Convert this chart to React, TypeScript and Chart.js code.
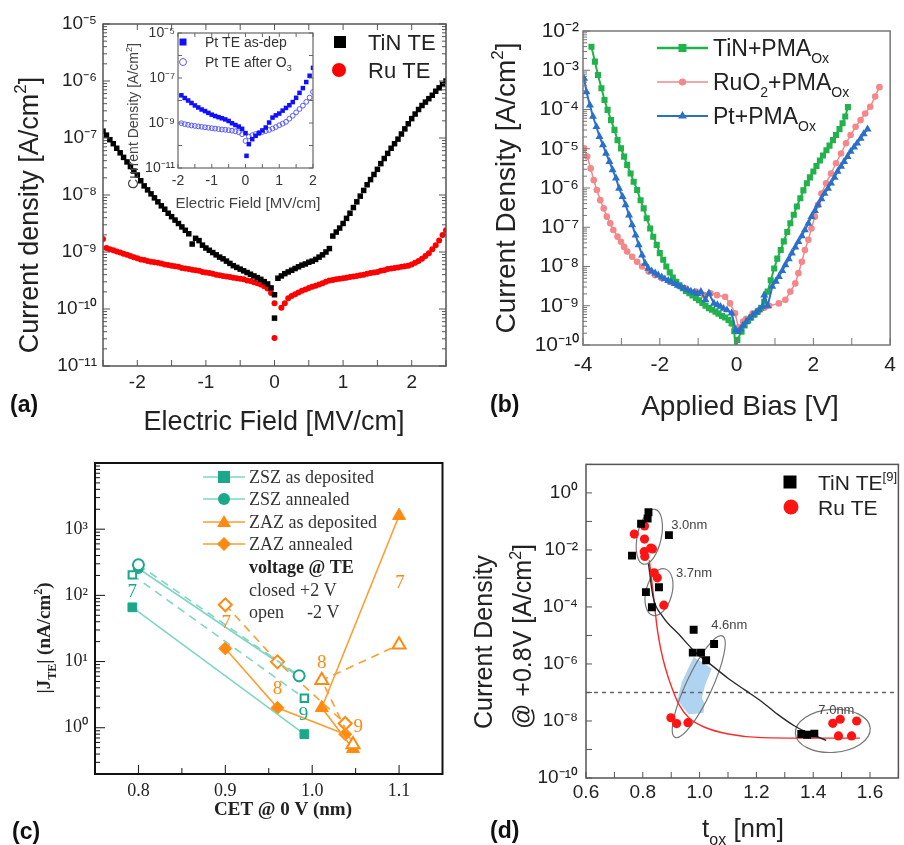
import React, { useEffect, useRef } from 'react';
import { Chart, registerables } from 'chart.js';

Chart.register(...registerables);

const SANS = '"Liberation Sans", Arial, Helvetica, sans-serif';
const SERIF = '"Liberation Serif", "Times New Roman", Times, serif';

// ================= Panel (a): J vs E, TiN TE / Ru TE (log10 J) =================
const fieldA = [-2.5, -2.45, -2.4, -2.35, -2.3, -2.25, -2.2, -2.15, -2.1, -2.05, -2, -1.95, -1.9, -1.85, -1.8, -1.75, -1.7, -1.65, -1.6, -1.55, -1.5, -1.45, -1.4, -1.35, -1.3, -1.25, -1.2, -1.15, -1.1, -1.05, -1, -0.95, -0.9, -0.85, -0.8, -0.75, -0.7, -0.65, -0.6, -0.55, -0.5, -0.45, -0.4, -0.35, -0.3, -0.25, -0.2, -0.15, -0.1, -0.05, 0, 0.05, 0.1, 0.15, 0.2, 0.25, 0.3, 0.35, 0.4, 0.45, 0.5, 0.55, 0.6, 0.65, 0.7, 0.75, 0.8, 0.85, 0.9, 0.95, 1, 1.05, 1.1, 1.15, 1.2, 1.25, 1.3, 1.35, 1.4, 1.45, 1.5, 1.55, 1.6, 1.65, 1.7, 1.75, 1.8, 1.85, 1.9, 1.95, 2, 2.05, 2.1, 2.15, 2.2, 2.25, 2.3, 2.35, 2.4, 2.45, 2.5];
const tinLogA = [-6.88, -6.95, -7.03, -7.10, -7.18, -7.26, -7.34, -7.42, -7.50, -7.58,
  -7.65, -7.75, -7.84, -7.91, -7.98, -8.05, -8.12, -8.19, -8.25, -8.32,
  -8.38, -8.44, -8.50, -8.56, -8.62, -8.68, -8.86, -8.76, -8.80, -8.88,
  -8.93, -8.97, -9.01, -9.05, -9.09, -9.12, -9.16, -9.20, -9.24, -9.27,
  -9.30, -9.33, -9.36, -9.39, -9.42, -9.45, -9.48, -9.52, -9.56, -9.63,
  -9.75,
  -9.46, -9.42, -9.38, -9.35, -9.32, -9.29, -9.26, -9.23, -9.21, -9.18,
  -9.16, -9.13, -9.09, -9.05, -9.00, -8.94, -8.72, -8.65, -8.58, -8.50,
  -8.41, -8.32, -8.22, -8.12, -8.02, -7.92, -7.82, -7.73, -7.64, -7.55,
  -7.45, -7.36, -7.27, -7.18, -7.10, -7.02, -6.93, -6.84, -6.75, -6.66,
  -6.58, -6.50, -6.43, -6.37, -6.31, -6.25, -6.18, -6.12, -6.06, -6.00];
const ruLogA = [-8.77, -8.93, -8.95, -8.97, -8.99, -9.01, -9.03, -9.05, -9.07, -9.09,
  -9.11, -9.13, -9.14, -9.16, -9.17, -9.18, -9.19, -9.20, -9.22, -9.23,
  -9.24, -9.25, -9.26, -9.28, -9.29, -9.30, -9.31, -9.32, -9.33, -9.35,
  -9.36, -9.37, -9.38, -9.40, -9.41, -9.42, -9.43, -9.44, -9.45, -9.46,
  -9.47, -9.48, -9.50, -9.51, -9.53, -9.55, -9.57, -9.60, -9.64, -9.72,
  -9.90,
  null, -9.98, -9.90, -9.81, -9.77, -9.74, -9.71, -9.68, -9.66, -9.63,
  -9.61, -9.59, -9.57, -9.55, -9.52, -9.50, -9.49, -9.48, -9.47, -9.46,
  -9.45, -9.44, -9.43, -9.42, -9.41, -9.40, -9.38, -9.37, -9.36, -9.35,
  -9.33, -9.32, -9.30, -9.29, -9.28, -9.27, -9.26, -9.25, -9.24, -9.22,
  -9.19, -9.16, -9.12, -9.07, -9.02, -8.95, -8.88, -8.80, -8.70, -8.62];
const tinDipXA = [0];
const tinDipLogA = [-10.16];
const ruDipXA = [0];
const ruDipLogA = [-10.51];
const aYTicks = [1e-11, 1e-10, 1e-9, 1e-8, 1e-7, 1e-6, 1e-5];
const aXTicks = [-2, -1, 0, 1, 2];

// ---- inset of (a): Pt TE ----
const fieldIn = [-1.9, -1.8, -1.7, -1.6, -1.5, -1.4, -1.3, -1.2, -1.1, -1.0, -0.9, -0.8, -0.7, -0.6, -0.5, -0.4, -0.3, -0.2, -0.1, 0, 0.1, 0.2, 0.3, 0.4, 0.5, 0.6, 0.7, 0.8, 0.9, 1.0, 1.1, 1.2, 1.3, 1.4, 1.5, 1.6, 1.7, 1.8, 1.9, 2.0];
const ptDepLog = [-7.77, -7.89, -8.00, -8.11, -8.22, -8.31, -8.40, -8.47, -8.55, -8.63,
  -8.69, -8.74, -8.79, -8.84, -8.91, -9.01, -9.09, -9.16, -9.26, -9.45,
  -9.94, -9.72, -9.57, -9.45, -9.33, -9.20, -8.98, -8.76, -8.66, -8.58,
  -8.45, -8.33, -8.21, -8.07, -7.88, -7.66, -7.45, -7.18, -6.90, -6.55];
const ptO3Log = [-9.01, -9.05, -9.08, -9.11, -9.13, -9.15, -9.17, -9.19, -9.21, -9.23,
  -9.25, -9.27, -9.29, -9.30, -9.32, -9.34, -9.37, -9.41, -9.50, -9.80,
  -9.60, -9.54, -9.49, -9.44, -9.40, -9.36, -9.31, -9.25, -9.18, -9.10,
  -9.03, -8.95, -8.81, -8.68, -8.53, -8.38, -8.23, -8.06, -7.87, -7.62];
const ptDepDipX = [0.03];
const ptDepDipLog = [-10.46];
const inYTicks = [1e-11, 1e-9, 1e-7, 1e-5];
const inXTicks = [-2, -1, 0, 1, 2];

// ================= Panel (b): J vs applied bias =================
const tinXB = [-3.78, -3.69, -3.61, -3.52, -3.44, -3.36, -3.27, -3.18, -3.10, -3.01,
  -2.93, -2.85, -2.76, -2.68, -2.59, -2.50, -2.42, -2.34, -2.25, -2.17,
  -2.08, -2.00, -1.91, -1.83, -1.74, -1.66, -1.57, -1.49, -1.40, -1.32,
  -1.23, -1.15, -1.06, -0.98, -0.89, -0.81, -0.72, -0.64, -0.55, -0.47,
  -0.38, -0.30, -0.21, -0.13, -0.06, -0.02,
  0.02, 0.13, 0.21, 0.30, 0.38, 0.47, 0.55, 0.64, 0.72, 0.81,
  0.89, 0.98, 1.06, 1.15, 1.23, 1.32, 1.40, 1.49, 1.57, 1.66,
  1.74, 1.83, 1.91, 2.00, 2.08, 2.17, 2.25, 2.34, 2.42, 2.51,
  2.59, 2.68, 2.76, 2.83, 2.90];
const tinLogB = [-2.40, -2.78, -3.12, -3.46, -3.76, -4.01, -4.27, -4.52, -4.78, -4.99,
  -5.20, -5.41, -5.63, -5.84, -6.05, -6.31, -6.52, -6.77, -7.03, -7.24,
  -7.45, -7.66, -7.83, -8.00, -8.15, -8.28, -8.39, -8.48, -8.55, -8.62,
  -8.68, -8.74, -8.80, -8.86, -8.93, -9.00, -9.06, -9.10, -9.15, -9.20,
  -9.26, -9.30, -9.36, -9.45, -9.65, -10.30,
  -9.87, -9.66, -9.50, -9.38, -9.30, -9.22, -9.15, -9.05, -8.90, -8.64,
  -8.35, -8.05, -7.80, -7.58, -7.36, -7.12, -6.90, -6.68, -6.47, -6.26,
  -6.06, -5.88, -5.73, -5.58, -5.44, -5.30, -5.17, -5.04, -4.92, -4.78,
  -4.65, -4.50, -4.35, -4.18, -3.94];
const ruo2XB = [-3.97, -3.89, -3.80, -3.72, -3.64, -3.55, -3.46, -3.38, -3.29, -3.21,
  -3.10, -3.01, -2.93, -2.85, -2.72, -2.59, -2.46, -2.29, -2.12, -1.95,
  -1.74, -1.53, -1.32, -1.06, -0.85, -0.68, -0.51, -0.30, -0.17, -0.04,
  0.05, 0.17, 0.25, 0.42, 0.59, 0.72, 0.85, 1.10, 1.27, 1.40,
  1.53, 1.61, 1.70, 1.78, 1.87, 1.95, 2.04, 2.12, 2.21, 2.33,
  2.46, 2.59, 2.72, 2.85, 2.97, 3.10, 3.23, 3.35, 3.48, 3.61, 3.72];
const ruo2LogB = [-4.99, -5.20, -5.50, -5.80, -6.05, -6.31, -6.52, -6.73, -6.90, -7.07,
  -7.24, -7.37, -7.50, -7.62, -7.75, -7.88, -8.00, -8.13, -8.22, -8.30,
  -8.39, -8.47, -8.56, -8.64, -8.73, -8.68, -8.73, -8.77, -8.94, -9.19,
  -9.55, -9.40, -9.33, -9.19, -9.11, -9.05, -9.00, -8.94, -8.85, -8.64,
  -8.43, -8.17, -7.88, -7.58, -7.32, -7.03, -6.73, -6.43, -6.14, -5.88,
  -5.63, -5.37, -5.12, -4.86, -4.65, -4.44, -4.27, -4.10, -3.93, -3.67, -3.43];
const ptXB = [-3.97, -3.91, -3.82, -3.74, -3.65, -3.57, -3.48, -3.40, -3.31, -3.23,
  -3.14, -3.06, -2.97, -2.89, -2.80, -2.72, -2.63, -2.55, -2.46, -2.38,
  -2.30, -2.21, -2.12, -2.04, -1.95, -1.87, -1.78, -1.70, -1.61, -1.53,
  -1.44, -1.36, -1.27, -1.19, -1.10, -1.02, -0.93, -0.81, -0.72, -0.59,
  -0.50, -0.42, -0.34, -0.25, -0.13, -0.02,
  0.04, 0.10, 0.17, 0.25, 0.34, 0.42, 0.51, 0.59, 0.68, 0.72,
  0.81, 0.93, 1.02, 1.10, 1.19, 1.27, 1.36, 1.44, 1.53, 1.61,
  1.70, 1.78, 1.87, 1.95, 2.04, 2.12, 2.21, 2.29, 2.38, 2.46,
  2.55, 2.63, 2.72, 2.80, 2.89, 2.97, 3.06, 3.14, 3.23, 3.31, 3.41];
const ptLogB = [-3.21, -3.55, -3.89, -4.18, -4.44, -4.69, -4.90, -5.12, -5.33, -5.54,
  -5.75, -6.01, -6.22, -6.43, -6.69, -6.94, -7.20, -7.45, -7.71, -7.92,
  -8.05, -8.12, -8.17, -8.22, -8.27, -8.32, -8.36, -8.40, -8.44, -8.48,
  -8.52, -8.56, -8.60, -8.63, -8.66, -8.69, -8.64, -8.85, -8.68, -8.94,
  -8.98, -9.02, -9.07, -9.11, -9.19, -9.62,
  -9.66, -9.60, -9.50, -9.41, -9.32, -9.24, -9.17, -9.11, -9.02, -8.73,
  -9.00, -8.51, -8.38, -8.26, -8.11, -7.96, -7.81, -7.66, -7.51, -7.37,
  -7.22, -7.07, -6.90, -6.73, -6.58, -6.43, -6.28, -6.14, -6.01, -5.88,
  -5.73, -5.58, -5.45, -5.33, -5.20, -5.07, -4.96, -4.86, -4.74, -4.62, -4.50];
const bYTicks = [1e-10, 1e-9, 1e-8, 1e-7, 1e-6, 1e-5, 1e-4, 1e-3, 1e-2];
const bXTicks = [-4, -2, 0, 2, 4];

// ================= Panel (c): |J_TE| vs CET =================
const zszDepCet = [0.793, 0.991];
const zszDepClosed = [66, 0.8];
const zszDepOpen = [204, 2.8];
const zszAnnCet = [0.800, 0.985];
const zszAnnClosed = [255, 5.9];
const zszAnnOpen = [290, 6.1];
const zazDepCet = [1.047, 1.011, 1.100];
const zazDepClosed = [0.48, 2.0, 1600];
const zazDepOpen = [0.56, 5.2, 18];
const zazAnnCet = [0.900, 0.960, 1.038];
const zazAnnClosed = [15.8, 2.0, 0.80];
const zazAnnOpen = [72, 9.9, 1.16];
const cNumText = ['7', '9', '7', '8', '8', '9', '7'];
const cNumCet = [0.793, 0.990, 0.901, 0.960, 1.011, 1.053, 1.101];
const cNumJ = [120, 1.66, 41, 4.1, 10, 1.1, 166];
const cNumStack = ['ZSZ', 'ZSZ', 'ZAZ', 'ZAZ', 'ZAZ', 'ZAZ', 'ZAZ'];
const cYTicks = [1, 10, 100, 1000];
const cXTicks = [0.8, 0.9, 1.0, 1.1];

// ================= Panel (d): J @ +0.8 V vs t_ox =================
const tinTox = [0.762, 0.794, 0.817, 0.820, 0.892, 0.811, 0.832, 0.857, 0.979, 0.976, 1.005, 1.023, 1.051, 1.358, 1.379, 1.404];
const tinJd = [6.3e-3, 0.083, 0.126, 0.21, 0.033, 3.3e-4, 9.8e-5, 4.9e-4, 1.58e-5, 2.5e-6, 2.5e-6, 1.35e-6, 5.0e-6, 3.5e-9, 3.3e-9, 3.6e-9];
const ruTox = [0.770, 0.806, 0.806, 0.805, 0.807, 0.828, 0.834, 0.840, 0.851, 0.874, 0.899, 0.919, 0.959, 1.469, 1.495, 1.553, 1.489, 1.535];
const ruJd = [0.036, 0.069, 0.024, 8.7e-3, 5.9e-3, 0.0117, 0.0108, 1.58e-3, 1.05e-3, 1.15e-4, 1.3e-8, 8.1e-9, 8.7e-9, 8.3e-9, 1.15e-8, 1.0e-8, 3.0e-9, 3.0e-9];
const tinFitTox = [0.820, 0.836, 0.869, 0.927, 0.985, 1.043, 1.101, 1.159, 1.217, 1.275, 1.333, 1.391, 1.446];
const tinFitJ = [3.3e-3, 2.3e-4, 4.8e-5, 1.1e-5, 2.6e-6, 8.9e-7, 3.1e-7, 1.23e-7, 4.9e-8, 1.7e-8, 6.8e-9, 3.5e-9, 2.1e-9];
const ruFitTox = [0.823, 0.834, 0.843, 0.851, 0.863, 0.880, 0.903, 0.927, 0.962, 1.020, 1.101, 1.217, 1.391, 1.565];
const ruFitJ = [4.3e-3, 5.1e-4, 8.1e-5, 1.66e-5, 3.4e-6, 6.9e-7, 1.4e-7, 3.8e-8, 1.29e-8, 5.9e-9, 3.5e-9, 2.6e-9, 2.5e-9, 2.5e-9];
const limitTox = [0.6, 1.7];
const limitJ = [1e-7, 1e-7];
const regionTox = [0.979, 1.043, 1.020, 1.008, 1.017, 1.014, 0.962, 0.921, 0.938];
const regionJ = [1.74e-6, 6.9e-7, 1.86e-7, 6.3e-8, 4.3e-8, 1.95e-8, 1.7e-8, 5.6e-8, 2.4e-7];
const groupText = ['3.0nm', '3.7nm', '4.6nm', '7.0nm'];
const groupTox = [0.823, 0.857, 0.997, 1.469];
const groupJ = [0.029, 3.3e-4, 1.6e-7, 4.5e-9];
const groupLabelTox = [0.900, 0.917, 1.041, 1.418];
const groupLabelJ = [0.079, 1.7e-3, 2.4e-5, 2.6e-8];
const dYTicks = [1e-10, 1e-8, 1e-6, 1e-4, 1e-2, 1];
const dXTicks = [0.6, 0.8, 1.0, 1.2, 1.4, 1.6];

// ellipse shapes around groups (pixel radii, degrees)
const groupShape = [
  { rx: 12, ry: 28, rot: 12 },
  { rx: 13, ry: 24, rot: 15 },
  { rx: 13, ry: 56, rot: 25 },
  { rx: 37.5, ry: 21.5, rot: -4 },
];

// ================= helpers =================
const SUP: Record<string, string> = { '-': '\u207B', '0': '\u2070', '1': '\u00B9', '2': '\u00B2', '3': '\u00B3', '4': '\u2074', '5': '\u2075', '6': '\u2076', '7': '\u2077', '8': '\u2078', '9': '\u2079' };
function powLabel(v: number) {
  const e = Math.round(Math.log10(v));
  return '10' + String(e).split('').map((c) => SUP[c]).join('');
}
function fromLog(xs: number[], logs: (number | null)[]) {
  const out: any[] = [];
  xs.forEach((x, i) => {
    const l = logs[i];
    if (l !== null && l !== undefined) out.push({ x, y: Math.pow(10, l) });
  });
  return out;
}
function pairs(xs: number[], ys: number[]) {
  return xs.map((x, i) => ({ x, y: ys[i] }));
}
function logMinors(lo: number, hi: number) {
  const out: number[] = [];
  for (let e = lo; e < hi; e++) for (let k = 2; k <= 9; k++) out.push(k * Math.pow(10, e));
  return out;
}
function decades(lo: number, hi: number) {
  const out: number[] = [];
  for (let e = lo; e <= hi; e++) out.push(Math.pow(10, e));
  return out;
}
function steps(a: number, b: number, s: number) {
  const out: number[] = [];
  const n = Math.round((b - a) / s);
  for (let i = 0; i <= n; i++) out.push(+(a + i * s).toFixed(6));
  return out;
}

type Part = { t: string; s?: 'sub' | 'sup' };
function rich(ctx: CanvasRenderingContext2D, parts: Part[], x: number, y: number, o: any) {
  const weight = o.weight || 'normal';
  const fontOf = (p: Part) => `${weight} ${p.s ? Math.round(o.size * 0.62) : o.size}px ${o.family || SANS}`;
  ctx.save();
  ctx.translate(x, y);
  if (o.rotate) ctx.rotate(-Math.PI / 2);
  const ws: number[] = [];
  let total = 0;
  for (const p of parts) {
    ctx.font = fontOf(p);
    const w = ctx.measureText(p.t).width;
    ws.push(w);
    total += w;
  }
  let cx = o.align === 'center' ? -total / 2 : o.align === 'right' ? -total : 0;
  ctx.fillStyle = o.color || '#222';
  ctx.textBaseline = 'alphabetic';
  ctx.textAlign = 'left';
  const base = o.size * 0.36;
  parts.forEach((p, i) => {
    ctx.font = fontOf(p);
    const dy = p.s === 'sub' ? o.size * 0.3 : p.s === 'sup' ? -o.size * 0.42 : 0;
    ctx.fillText(p.t, cx, base + dy);
    cx += ws[i];
  });
  ctx.restore();
}

function marker(ctx: CanvasRenderingContext2D, style: string, x: number, y: number, r: number, fill: string | null, stroke: string | null, lw = 1) {
  ctx.save();
  ctx.beginPath();
  if (style === 'rect') ctx.rect(x - r, y - r, 2 * r, 2 * r);
  else if (style === 'circle') ctx.arc(x, y, r, 0, Math.PI * 2);
  else if (style === 'triangle') {
    ctx.moveTo(x, y - r);
    ctx.lineTo(x + r * 0.866, y + r * 0.5);
    ctx.lineTo(x - r * 0.866, y + r * 0.5);
    ctx.closePath();
  } else if (style === 'diamond') {
    ctx.moveTo(x, y - r);
    ctx.lineTo(x + r, y);
    ctx.lineTo(x, y + r);
    ctx.lineTo(x - r, y);
    ctx.closePath();
  }
  if (fill) {
    ctx.fillStyle = fill;
    ctx.fill();
  }
  if (stroke) {
    ctx.strokeStyle = stroke;
    ctx.lineWidth = lw;
    ctx.stroke();
  }
  ctx.restore();
}

type TickSpec = { axis: 'x' | 'y'; side: 'left' | 'right' | 'top' | 'bottom'; values: number[]; len: number };
function deco(d: { color: string; width: number; ticks: TickSpec[]; bg?: boolean; before?: (c: any) => void; after?: (c: any) => void }) {
  return {
    id: 'deco',
    beforeDraw(chart: any) {
      if (!d.bg) return;
      const a = chart.chartArea;
      const ctx = chart.ctx;
      ctx.save();
      ctx.fillStyle = '#ffffff';
      ctx.fillRect(a.left, a.top, a.right - a.left, a.bottom - a.top);
      ctx.restore();
    },
    beforeDatasetsDraw(chart: any) {
      if (d.before) d.before(chart);
    },
    afterDatasetsDraw(chart: any) {
      const ctx = chart.ctx as CanvasRenderingContext2D;
      const a = chart.chartArea;
      ctx.save();
      ctx.strokeStyle = d.color;
      ctx.lineWidth = 1;
      for (const t of d.ticks) {
        const sc = chart.scales[t.axis];
        for (const v of t.values) {
          const p = sc.getPixelForValue(v);
          if (t.axis === 'y' && (p < a.top - 0.5 || p > a.bottom + 0.5)) continue;
          if (t.axis === 'x' && (p < a.left - 0.5 || p > a.right + 0.5)) continue;
          ctx.beginPath();
          if (t.side === 'left') { ctx.moveTo(a.left, p); ctx.lineTo(a.left + t.len, p); }
          if (t.side === 'right') { ctx.moveTo(a.right, p); ctx.lineTo(a.right - t.len, p); }
          if (t.side === 'bottom') { ctx.moveTo(p, a.bottom); ctx.lineTo(p, a.bottom - t.len); }
          if (t.side === 'top') { ctx.moveTo(p, a.top); ctx.lineTo(p, a.top + t.len); }
          ctx.stroke();
        }
      }
      ctx.lineWidth = d.width;
      ctx.strokeRect(a.left, a.top, a.right - a.left, a.bottom - a.top);
      ctx.restore();
      if (d.after) d.after(chart);
    },
  };
}

function axis(type: string, min: number, max: number, tickVals: number[], fmt: (v: number) => string, size: number, font: any, color: string, pad: number, horiz: boolean) {
  return {
    type,
    min,
    max,
    afterFit: (s: any) => {
      if (horiz) s.height = size;
      else s.width = size;
    },
    afterBuildTicks: (s: any) => {
      s.ticks = tickVals.map((v) => ({ value: v }));
    },
    grid: { display: false, drawTicks: false },
    border: { display: false },
    ticks: { autoSkip: false, maxRotation: 0, minRotation: 0, padding: pad, font, color, callback: (v: any) => fmt(Number(v)) },
  };
}

function baseOptions(padding: any, scales: any) {
  return {
    responsive: false,
    animation: false,
    events: [],
    layout: { padding },
    plugins: { legend: { display: false }, tooltip: { enabled: false } },
    scales,
  };
}

// ================= chart configs =================
function makeA() {
  const font = { family: SANS, size: 19 };
  return {
    type: 'scatter',
    data: {
      datasets: [
        { data: fromLog(fieldA, tinLogA).concat(fromLog(tinDipXA, tinDipLogA)), pointStyle: 'rect', pointRadius: 3.9, pointBackgroundColor: '#000', pointBorderColor: '#000', pointBorderWidth: 0, order: 0 },
        { data: fromLog(fieldA, ruLogA).concat(fromLog(ruDipXA, ruDipLogA)), pointStyle: 'circle', pointRadius: 3, pointBackgroundColor: '#ff0000', pointBorderColor: '#ff0000', pointBorderWidth: 0, order: 1 },
      ],
    },
    options: baseOptions({ left: 0, top: 24, right: 6, bottom: 0 }, {
      x: axis('linear', -2.5, 2.5, aXTicks, (v) => String(v), 79, font, '#222', 5, true),
      y: axis('logarithmic', 1e-11, 1e-5, aYTicks, powLabel, 103, font, '#222', 6, false),
    }),
    plugins: [deco({
      color: '#555', width: 1.5,
      ticks: [
        { axis: 'y', side: 'left', values: decades(-11, -5), len: 7 },
        { axis: 'y', side: 'left', values: logMinors(-11, -5), len: 4 },
        { axis: 'y', side: 'right', values: decades(-11, -5), len: 7 },
        { axis: 'y', side: 'right', values: logMinors(-11, -5), len: 4 },
        { axis: 'x', side: 'bottom', values: steps(-2.5, 2.5, 0.5), len: 6 },
        { axis: 'x', side: 'top', values: steps(-2.5, 2.5, 0.5), len: 6 },
      ],
      after: (chart: any) => {
        const ctx = chart.ctx;
        rich(ctx, [{ t: 'Current density [A/cm' }, { t: '2', s: 'sup' }, { t: ']' }], 28, 215, { size: 27, align: 'center', rotate: true, color: '#222' });
        rich(ctx, [{ t: 'Electric Field [MV/cm]' }], 274, 420, { size: 27, align: 'center', color: '#222' });
        rich(ctx, [{ t: '(a)' }], 10, 404, { size: 23, weight: 'bold', color: '#111' });
        marker(ctx, 'rect', 340, 42, 6, '#000', null);
        rich(ctx, [{ t: 'TiN TE' }], 368, 42, { size: 22, color: '#222' });
        marker(ctx, 'circle', 339, 70, 7, '#ff0000', null);
        rich(ctx, [{ t: 'Ru TE' }], 368, 70, { size: 22, color: '#222' });
      },
    })],
  };
}

function makeInset() {
  const font = { family: SANS, size: 14 };
  return {
    type: 'scatter',
    data: {
      datasets: [
        { data: fromLog(fieldIn, ptDepLog).concat(fromLog(ptDepDipX, ptDepDipLog)), pointStyle: 'rect', pointRadius: 3.2, pointBackgroundColor: '#1010ff', pointBorderColor: '#1010ff', pointBorderWidth: 0, order: 0 },
        { data: fromLog(fieldIn, ptO3Log), pointStyle: 'circle', pointRadius: 2.4, pointBackgroundColor: 'rgba(255,255,255,0)', pointBorderColor: '#5a5aff', pointBorderWidth: 1, order: 1 },
      ],
    },
    options: baseOptions({ left: 0, top: 13, right: 20, bottom: 0 }, {
      x: axis('linear', -2, 2, inXTicks, (v) => String(v), 52, font, '#333', 5, true),
      y: axis('logarithmic', 1e-11, 1e-5, inYTicks, powLabel, 60, font, '#333', 3, false),
    }),
    plugins: [deco({
      color: '#666', width: 1.2, bg: true,
      ticks: [
        { axis: 'y', side: 'left', values: decades(-11, -5), len: 4 },
        { axis: 'y', side: 'right', values: decades(-11, -5), len: 4 },
        { axis: 'x', side: 'bottom', values: steps(-2, 2, 0.5), len: 4 },
        { axis: 'x', side: 'top', values: steps(-2, 2, 0.5), len: 4 },
      ],
      after: (chart: any) => {
        const ctx = chart.ctx;
        rich(ctx, [{ t: 'Current Density [A/cm' }, { t: '2', s: 'sup' }, { t: ']' }], 15, 96, { size: 14, align: 'center', rotate: true, color: '#444' });
        rich(ctx, [{ t: 'Electric Field [MV/cm]' }], 130, 183, { size: 15, align: 'center', color: '#444' });
        marker(ctx, 'rect', 65, 22, 3.5, '#1010ff', null);
        rich(ctx, [{ t: 'Pt TE as-dep' }], 87, 22, { size: 14, color: '#333' });
        marker(ctx, 'circle', 65, 42, 3.5, null, '#5a5aff', 1);
        rich(ctx, [{ t: 'Pt TE after O' }, { t: '3', s: 'sub' }], 87, 42, { size: 14, color: '#333' });
      },
    })],
  };
}

const GREEN = '#22b24c';
const PINK = '#f4878a';
const BLUE = '#2a6fc8';

function makeB() {
  const font = { family: SANS, size: 21 };
  return {
    type: 'scatter',
    data: {
      datasets: [
        { data: fromLog(ptXB, ptLogB), showLine: true, borderColor: BLUE, borderWidth: 2, pointStyle: 'triangle', pointRadius: 4.6, pointBackgroundColor: BLUE, pointBorderColor: BLUE, pointBorderWidth: 0, order: 0 },
        { data: fromLog(tinXB, tinLogB), showLine: true, borderColor: GREEN, borderWidth: 2, pointStyle: 'rect', pointRadius: 4.3, pointBackgroundColor: GREEN, pointBorderColor: GREEN, pointBorderWidth: 0, order: 1 },
        { data: fromLog(ruo2XB, ruo2LogB), showLine: true, borderColor: PINK, borderWidth: 1.5, pointStyle: 'circle', pointRadius: 3.3, pointBackgroundColor: PINK, pointBorderColor: PINK, pointBorderWidth: 0, order: 2 },
      ],
    },
    options: baseOptions({ left: 0, top: 31, right: 7, bottom: 0 }, {
      x: axis('linear', -4, 4, bXTicks, (v) => String(v), 100, font, '#222', 8, true),
      y: axis('logarithmic', 1e-10, 1e-2, bYTicks, powLabel, 131, font, '#222', 4, false),
    }),
    plugins: [deco({
      color: '#777', width: 1.5,
      ticks: [
        { axis: 'y', side: 'left', values: decades(-10, -2), len: 7 },
        { axis: 'y', side: 'left', values: logMinors(-10, -2), len: 4 },
        { axis: 'x', side: 'bottom', values: steps(-4, 4, 1), len: 7 },
      ],
      after: (chart: any) => {
        const ctx = chart.ctx;
        rich(ctx, [{ t: 'Current Density [A/cm' }, { t: '2', s: 'sup' }, { t: ']' }], 53, 188, { size: 28, align: 'center', rotate: true, color: '#222' });
        rich(ctx, [{ t: 'Applied Bias [V]' }], 288, 405, { size: 28, align: 'center', color: '#222' });
        rich(ctx, [{ t: '(b)' }], 38, 404, { size: 23, weight: 'bold', color: '#111' });
        const rows = [
          { c: GREEN, s: 'rect', r: 4, lw: 2.5, parts: [{ t: 'TiN+PMA' }, { t: 'Ox', s: 'sub' }], y: 48 },
          { c: PINK, s: 'circle', r: 3.6, lw: 1.5, parts: [{ t: 'RuO' }, { t: '2', s: 'sub' }, { t: '+PMA' }, { t: 'Ox', s: 'sub' }], y: 82 },
          { c: BLUE, s: 'triangle', r: 5, lw: 2, parts: [{ t: 'Pt+PMA' }, { t: 'Ox', s: 'sub' }], y: 116 },
        ];
        for (const row of rows) {
          ctx.save();
          ctx.strokeStyle = row.c;
          ctx.lineWidth = row.lw;
          ctx.beginPath();
          ctx.moveTo(205, row.y);
          ctx.lineTo(256, row.y);
          ctx.stroke();
          ctx.restore();
          marker(ctx, row.s, 230.5, row.y, row.r, row.c, null);
          rich(ctx, row.parts as Part[], 261, row.y, { size: 23, color: '#222' });
        }
      },
    })],
  };
}

const TEAL = '#19a88a';
const TEAL_LINE = '#7fd6c4';
const ORANGE = '#ff8a12';
const ORANGE_LINE = '#ff9d30';

function makeC() {
  const font = { family: SERIF, size: 18 };
  const closed = (xs: number[], ys: number[], style: string, r: number, mc: string, lc: string) => ({
    data: pairs(xs, ys), showLine: true, borderColor: lc, borderWidth: 1.6, pointStyle: style, pointRadius: r,
    pointBackgroundColor: mc, pointBorderColor: mc, pointBorderWidth: 1, order: 1,
  });
  const open = (xs: number[], ys: number[], style: string, r: number, mc: string, lc: string) => ({
    data: pairs(xs, ys), showLine: true, borderColor: lc, borderWidth: 1.6, borderDash: [8, 6], pointStyle: style, pointRadius: r,
    pointBackgroundColor: '#ffffff', pointBorderColor: mc, pointBorderWidth: 2, order: 0,
  });
  return {
    type: 'scatter',
    data: {
      datasets: [
        closed(zszDepCet, zszDepClosed, 'rect', 6.2, TEAL, TEAL_LINE),
        open(zszDepCet, zszDepOpen, 'rect', 5.3, TEAL, TEAL_LINE),
        closed(zszAnnCet, zszAnnClosed, 'circle', 5, TEAL, TEAL_LINE),
        open(zszAnnCet, zszAnnOpen, 'circle', 5.5, TEAL, TEAL_LINE),
        closed(zazDepCet, zazDepClosed, 'triangle', 7.5, ORANGE, ORANGE_LINE),
        open(zazDepCet, zazDepOpen, 'triangle', 7.5, ORANGE, ORANGE_LINE),
        closed(zazAnnCet, zazAnnClosed, 'rectRot', 6.5, ORANGE, ORANGE_LINE),
        open(zazAnnCet, zazAnnOpen, 'rectRot', 6.5, ORANGE, ORANGE_LINE),
      ],
    },
    options: baseOptions({ left: 0, top: 18, right: 7, bottom: 0 }, {
      x: axis('linear', 0.75, 1.15, cXTicks, (v) => v.toFixed(1), 71, font, '#222', 6, true),
      y: axis('logarithmic', 0.2, 1e4, cYTicks, powLabel, 95, font, '#222', 7, false),
    }),
    plugins: [deco({
      color: '#111', width: 2,
      ticks: [
        { axis: 'y', side: 'left', values: decades(0, 4), len: 10 },
        { axis: 'y', side: 'left', values: logMinors(-1, 4), len: 5 },
        { axis: 'x', side: 'bottom', values: cXTicks, len: 9 },
        { axis: 'x', side: 'bottom', values: [0.85, 0.95, 1.05], len: 6 },
      ],
      after: (chart: any) => {
        const ctx = chart.ctx;
        const sx = chart.scales.x;
        const sy = chart.scales.y;
        cNumText.forEach((t, i) => {
          rich(ctx, [{ t }], sx.getPixelForValue(cNumCet[i]), sy.getPixelForValue(cNumJ[i]), { size: 19, family: SERIF, align: 'center', color: cNumStack[i] === 'ZSZ' ? TEAL : ORANGE });
        });
        rich(ctx, [{ t: '|J' }, { t: 'TE', s: 'sub' }, { t: '| (nA/cm' }, { t: '2', s: 'sup' }, { t: ')' }], 43, 193, { size: 19, family: SERIF, weight: 'bold', align: 'center', rotate: true, color: '#222' });
        rich(ctx, [{ t: 'CET @ 0 V (nm)' }], 283, 363, { size: 19, family: SERIF, weight: 'bold', align: 'center', color: '#222' });
        rich(ctx, [{ t: '(c)' }], 12, 386, { size: 23, weight: 'bold', color: '#111' });
        const rows = [
          { lc: TEAL_LINE, mc: TEAL, s: 'rect', r: 6, t: 'ZSZ as deposited', y: 32 },
          { lc: TEAL_LINE, mc: TEAL, s: 'circle', r: 6, t: 'ZSZ annealed', y: 54 },
          { lc: ORANGE_LINE, mc: ORANGE, s: 'triangle', r: 8, t: 'ZAZ as deposited', y: 77 },
          { lc: ORANGE_LINE, mc: ORANGE, s: 'diamond', r: 7, t: 'ZAZ annealed', y: 99 },
        ];
        for (const row of rows) {
          ctx.save();
          ctx.strokeStyle = row.lc;
          ctx.lineWidth = 1.6;
          ctx.beginPath();
          ctx.moveTo(203, row.y);
          ctx.lineTo(245, row.y);
          ctx.stroke();
          ctx.restore();
          marker(ctx, row.s, 224, row.y + (row.s === 'triangle' ? 1 : 0), row.r, row.mc, null);
          rich(ctx, [{ t: row.t }], 249, row.y, { size: 18, family: SERIF, color: '#333' });
        }
        rich(ctx, [{ t: 'voltage @ TE' }], 249, 122, { size: 18, family: SERIF, weight: 'bold', color: '#222' });
        rich(ctx, [{ t: 'closed' }], 249, 145, { size: 18, family: SERIF, color: '#333' });
        rich(ctx, [{ t: '+2 V' }], 300, 145, { size: 18, family: SERIF, color: '#333' });
        rich(ctx, [{ t: 'open' }], 249, 167, { size: 18, family: SERIF, color: '#333' });
        rich(ctx, [{ t: '-2 V' }], 307, 167, { size: 18, family: SERIF, color: '#333' });
      },
    })],
  };
}

function makeD() {
  const font = { family: SANS, size: 19 };
  return {
    type: 'scatter',
    data: {
      datasets: [
        { data: pairs(tinTox, tinJd), pointStyle: 'rect', pointRadius: 5.6, pointBackgroundColor: '#000', pointBorderColor: '#000', pointBorderWidth: 0, order: 0 },
        { data: pairs(ruTox, ruJd), pointStyle: 'circle', pointRadius: 4.6, pointBackgroundColor: '#ff1414', pointBorderColor: '#ff1414', pointBorderWidth: 0, order: 1 },
        { data: pairs(tinFitTox, tinFitJ), showLine: true, borderColor: '#2a2a2a', borderWidth: 1.4, pointRadius: 0, cubicInterpolationMode: 'monotone', order: 2 },
        { data: pairs(ruFitTox, ruFitJ), showLine: true, borderColor: '#ff2a2a', borderWidth: 1.4, pointRadius: 0, cubicInterpolationMode: 'monotone', order: 3 },
        { data: pairs(limitTox, limitJ), showLine: true, borderColor: '#666', borderWidth: 1.4, borderDash: [4, 4], pointRadius: 0, order: 4 },
      ],
    },
    options: baseOptions({ left: 0, top: 16, right: 2, bottom: 0 }, {
      x: axis('linear', 0.6, 1.7, dXTicks, (v) => v.toFixed(1), 67, font, '#222', 3, true),
      y: axis('logarithmic', 1e-10, 10, dYTicks, powLabel, 134, font, '#222', 8, false),
    }),
    plugins: [deco({
      color: '#555', width: 1.5,
      ticks: [
        { axis: 'y', side: 'left', values: decades(-10, 1), len: 6 },
        { axis: 'x', side: 'bottom', values: steps(0.6, 1.7, 0.1), len: 6 },
      ],
      before: (chart: any) => {
        const ctx = chart.ctx as CanvasRenderingContext2D;
        const sx = chart.scales.x;
        const sy = chart.scales.y;
        ctx.save();
        ctx.beginPath();
        regionTox.forEach((x, i) => {
          const px = sx.getPixelForValue(x);
          const py = sy.getPixelForValue(regionJ[i]);
          if (i === 0) ctx.moveTo(px, py);
          else ctx.lineTo(px, py);
        });
        ctx.closePath();
        ctx.fillStyle = '#aed4f2';
        ctx.fill();
        ctx.strokeStyle = '#777';
        ctx.lineWidth = 1.2;
        groupTox.forEach((x, i) => {
          const g = groupShape[i];
          ctx.beginPath();
          ctx.ellipse(sx.getPixelForValue(x), sy.getPixelForValue(groupJ[i]), g.rx, g.ry, (g.rot * Math.PI) / 180, 0, Math.PI * 2);
          ctx.stroke();
        });
        ctx.restore();
      },
      after: (chart: any) => {
        const ctx = chart.ctx;
        const sx = chart.scales.x;
        const sy = chart.scales.y;
        groupText.forEach((t, i) => {
          rich(ctx, [{ t }], sx.getPixelForValue(groupLabelTox[i]), sy.getPixelForValue(groupLabelJ[i]), { size: 13, color: '#444' });
        });
        rich(ctx, [{ t: 'Current Density' }], 31, 284, { size: 25, rotate: true, color: '#222' });
        rich(ctx, [{ t: '@ +0.8V [A/cm' }, { t: '2', s: 'sup' }, { t: ']' }], 70, 284, { size: 25, rotate: true, color: '#222' });
        rich(ctx, [{ t: 't' }, { t: 'ox', s: 'sub' }, { t: ' [nm]' }], 291, 383, { size: 26, align: 'center', color: '#222' });
        rich(ctx, [{ t: '(d)' }], 38, 385, { size: 23, weight: 'bold', color: '#111' });
        marker(ctx, 'rect', 338, 37, 6.5, '#000', null);
        rich(ctx, [{ t: 'TiN TE' }, { t: '[9]', s: 'sup' }], 366, 37, { size: 21, color: '#222' });
        marker(ctx, 'circle', 339, 62, 7.5, '#ff1414', null);
        rich(ctx, [{ t: 'Ru TE' }], 366, 62, { size: 21, color: '#222' });
      },
    })],
  };
}

function Panel(props: { left: number; top: number; width: number; height: number; make: () => any; z?: number }) {
  const ref = useRef<HTMLCanvasElement>(null);
  useEffect(() => {
    const chart = new Chart(ref.current as HTMLCanvasElement, props.make());
    return () => chart.destroy();
  }, []);
  return (
    <div style={{ position: 'absolute', left: props.left, top: props.top, width: props.width, height: props.height, zIndex: props.z || 1 }}>
      <canvas ref={ref} width={props.width} height={props.height} style={{ width: props.width, height: props.height, display: 'block' }} />
    </div>
  );
}

export default function App() {
  return (
    <div style={{ position: 'absolute', left: 0, top: 0, width: 904, height: 845, background: '#ffffff', overflow: 'hidden' }}>
      <Panel left={0} top={0} width={452} height={445} make={makeA} />
      <Panel left={118} top={20} width={215} height={200} make={makeInset} z={2} />
      <Panel left={452} top={0} width={452} height={445} make={makeB} />
      <Panel left={0} top={445} width={452} height={400} make={makeC} />
      <Panel left={452} top={445} width={452} height={400} make={makeD} />
    </div>
  );
}
